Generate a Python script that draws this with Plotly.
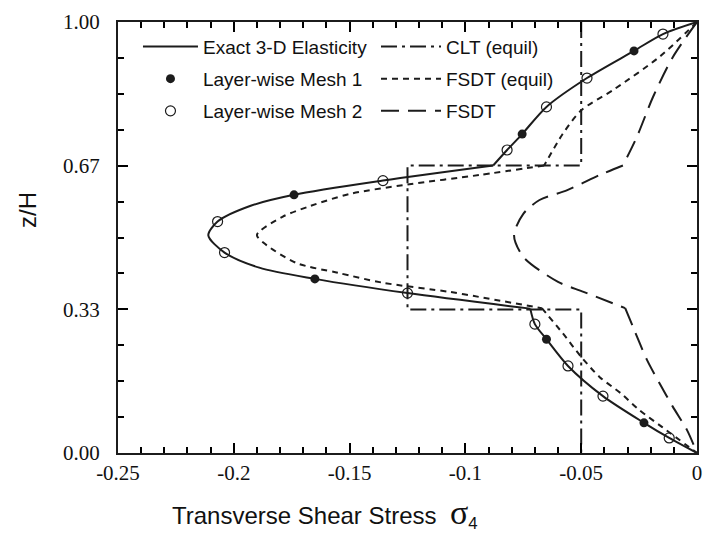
import plotly.graph_objects as go

# ---------------- data ----------------
exact_upper_s = [0.0, -0.0147, -0.0272, -0.0475, -0.065, -0.0755, -0.082, -0.088]
exact_upper_z = [1.0, 0.972, 0.933, 0.870, 0.803, 0.740, 0.703, 0.667]
exact_mid_s = [-0.088, -0.1356, -0.174, -0.193, -0.207, -0.211, -0.204, -0.189, -0.165, -0.125, -0.072]
exact_mid_z = [0.667, 0.632, 0.599, 0.573, 0.537, 0.505, 0.465, 0.430, 0.404, 0.371, 0.335]
exact_low_s = [-0.072, -0.070, -0.065, -0.0557, -0.0406, -0.0229, -0.012, 0.0]
exact_low_z = [0.335, 0.299, 0.264, 0.202, 0.132, 0.070, 0.035, 0.0]

mesh1_s = [-0.0272, -0.0755, -0.174, -0.165, -0.065, -0.0229]
mesh1_z = [0.933, 0.740, 0.599, 0.404, 0.264, 0.070]
mesh2_s = [-0.0147, -0.0475, -0.065, -0.082, -0.1356, -0.207, -0.204, -0.125,
           -0.070, -0.0557, -0.0406, -0.012]
mesh2_z = [0.972, 0.870, 0.803, 0.703, 0.632, 0.537, 0.465, 0.371,
           0.299, 0.202, 0.132, 0.035]

clt_s = [-0.05, -0.05, -0.125, -0.125, -0.05, -0.05]
clt_z = [1.0, 0.667, 0.667, 0.333, 0.333, 0.0]

fe_upper_s = [0.0, -0.016, -0.036, -0.050, -0.058, -0.066]
fe_upper_z = [1.0, 0.920, 0.843, 0.795, 0.740, 0.667]
fe_mid_s = [-0.066, -0.094, -0.125, -0.150, -0.167, -0.179, -0.190, -0.187, -0.173,
            -0.155, -0.1356, -0.107, -0.094, -0.067]
fe_mid_z = [0.667, 0.645, 0.623, 0.601, 0.573, 0.548, 0.506, 0.487, 0.441,
            0.418, 0.395, 0.374, 0.362, 0.336]
fe_low_s = [-0.067, -0.058, -0.050, -0.042, -0.033, -0.025, -0.015, 0.0]
fe_low_z = [0.336, 0.278, 0.223, 0.176, 0.139, 0.100, 0.060, 0.0]

f_upper_s = [0.0, -0.0104, -0.019, -0.026, -0.032]
f_upper_z = [1.0, 0.919, 0.826, 0.733, 0.667]
f_mid_s = [-0.032, -0.042, -0.056, -0.068, -0.075, -0.079, -0.075, -0.060, -0.049, -0.031]
f_mid_z = [0.667, 0.645, 0.610, 0.587, 0.555, 0.505, 0.455, 0.397, 0.374, 0.336]
f_low_s = [-0.031, -0.0276, -0.0216, -0.016, -0.0104, -0.0043, 0.0]
f_low_z = [0.336, 0.292, 0.216, 0.160, 0.107, 0.053, 0.0]

x_tickvals = [-0.25, -0.2, -0.15, -0.1, -0.05, 0.0]
x_ticktext = ["-0.25", "-0.2", "-0.15", "-0.1", "-0.05", "0"]
x_minor_vals = [round(-0.25 + 0.01 * i, 3) for i in range(26)]
y_tickvals = [0.0, 1 / 3, 2 / 3, 1.0]
y_ticktext = ["0.00", "0.33", "0.67", "1.00"]
y_minor_vals = [i / 12 for i in range(13)]


def join(*layers):
    xs, ys = [], []
    for i, (sx, sz) in enumerate(layers):
        if i:
            xs.append(None)
            ys.append(None)
        xs += sx
        ys += sz
    return xs, ys


INK = "#1c1c1c"
TICK = "#000000"
fig = go.Figure()

ex, ez = join((exact_upper_s, exact_upper_z), (exact_mid_s, exact_mid_z), (exact_low_s, exact_low_z))
fig.add_trace(go.Scatter(x=ex, y=ez, mode="lines", name="Exact 3-D Elasticity",
                         line=dict(color=INK, width=2, shape="spline", smoothing=0.8),
                         legend="legend", legendgroup="a"))
fig.add_trace(go.Scatter(x=mesh1_s, y=mesh1_z, mode="markers", name="Layer-wise Mesh 1",
                         marker=dict(symbol="circle", size=9, color=INK, line=dict(width=0)),
                         legend="legend", legendgroup="b"))
fig.add_trace(go.Scatter(x=mesh2_s, y=mesh2_z, mode="markers", name="Layer-wise Mesh 2",
                         marker=dict(symbol="circle-open", size=10, color=INK, line=dict(width=1.2)),
                         legend="legend", legendgroup="c"))
fig.add_trace(go.Scatter(x=clt_s, y=clt_z, mode="lines", name="CLT (equil)",
                         line=dict(color=INK, width=2, dash="16px,5px,3px,5px"),
                         legend="legend2", legendgroup="d"))
fx, fz = join((fe_upper_s, fe_upper_z), (fe_mid_s, fe_mid_z), (fe_low_s, fe_low_z))
fig.add_trace(go.Scatter(x=fx, y=fz, mode="lines", name="FSDT (equil)",
                         line=dict(color=INK, width=2, dash="6px,5px", shape="spline", smoothing=0.8),
                         legend="legend2", legendgroup="e"))
gx, gz = join((f_upper_s, f_upper_z), (f_mid_s, f_mid_z), (f_low_s, f_low_z))
fig.add_trace(go.Scatter(x=gx, y=gz, mode="lines", name="FSDT",
                         line=dict(color=INK, width=2, dash="18px,9px", shape="spline", smoothing=0.8),
                         legend="legend2", legendgroup="f"))

tickfont = dict(family="Liberation Serif", size=21, color="#111")
legfont = dict(family="Liberation Sans", size=19, color="#111")

fig.update_layout(
    width=707, height=547, autosize=False,
    margin=dict(l=118, r=10, t=22, b=94, autoexpand=False),
    plot_bgcolor="white",
    showlegend=True,
    legend=dict(x=0.0345, y=0.987, xanchor="left", yanchor="top", font=legfont,
                itemwidth=55, bgcolor="rgba(0,0,0,0)",
                traceorder="grouped", tracegroupgap=4.5),
    legend2=dict(x=(376 - 118) / 579, y=0.987, xanchor="left", yanchor="top", font=legfont,
                 itemwidth=60, bgcolor="rgba(0,0,0,0)",
                 traceorder="grouped", tracegroupgap=4.5),
    xaxis=dict(range=[-0.25, 0], tickmode="array", tickvals=x_tickvals, ticktext=x_ticktext,
               ticks="inside", ticklen=10, tickwidth=2, tickcolor=TICK, automargin=False,
               showline=True, linewidth=2, linecolor=INK, mirror="ticks", showgrid=False,
               zeroline=False, tickfont=tickfont,
               minor=dict(tickvals=x_minor_vals, ticks="inside", ticklen=6, tickwidth=1.5,
                          tickcolor=TICK, showgrid=False)),
    yaxis=dict(range=[0, 1], tickmode="array", tickvals=y_tickvals, ticktext=y_ticktext,
               ticks="inside", ticklen=10, tickwidth=2, tickcolor=TICK, automargin=False,
               showline=True, linewidth=2, linecolor=INK, mirror="ticks", showgrid=False,
               zeroline=False, tickfont=tickfont, ticklabelstandoff=12,
               minor=dict(tickvals=y_minor_vals, ticks="inside", ticklen=6, tickwidth=1.5,
                          tickcolor=TICK, showgrid=False)),
    annotations=[
        dict(text="Transverse Shear Stress  <span style='font-family:Liberation Serif;font-size:34px'>σ</span><sub>4</sub>",
             xref="paper", yref="paper", x=(170 - 118) / 579, y=(453 - 513) / 431,
             xanchor="left", yanchor="middle", showarrow=False,
             font=dict(family="Liberation Sans", size=24, color="#111")),
        dict(text="z/H", xref="paper", yref="paper", x=(27 - 118) / 579, y=(453 - 210) / 431,
             xanchor="center", yanchor="middle", textangle=-90, showarrow=False,
             font=dict(family="Liberation Sans", size=24, color="#111")),
    ],
)

fig.write_html("out.html")
